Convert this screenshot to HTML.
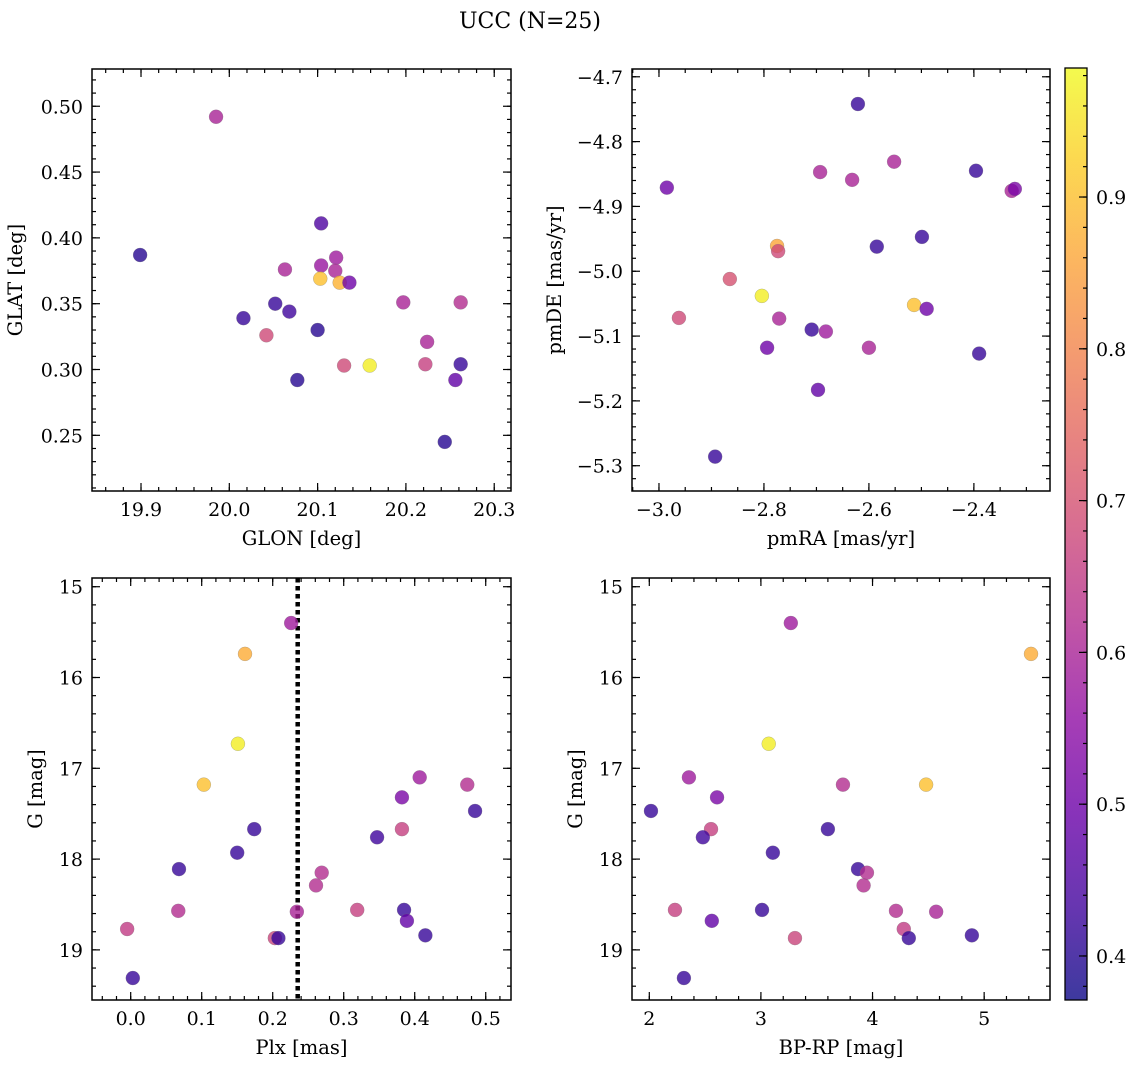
<!DOCTYPE html>
<html><head><meta charset="utf-8">
<style>
html,body{margin:0;padding:0;background:#fff;}
svg{display:block;font-family:"DejaVu Serif","Liberation Serif",serif;}
</style></head>
<body>
<svg id="fig" width="1136" height="1068" viewBox="0 0 1136 1068" xmlns="http://www.w3.org/2000/svg">
<defs>
<linearGradient id="plasma" x1="0" y1="1" x2="0" y2="0">
<stop offset="0" stop-color="#0d0887"/><stop offset="0.1" stop-color="#41049d"/><stop offset="0.2" stop-color="#6a00a8"/><stop offset="0.3" stop-color="#8f0da4"/><stop offset="0.4" stop-color="#b12a90"/><stop offset="0.5" stop-color="#cc4778"/><stop offset="0.6" stop-color="#e16462"/><stop offset="0.7" stop-color="#f2844b"/><stop offset="0.8" stop-color="#fca636"/><stop offset="0.9" stop-color="#fcce25"/><stop offset="1" stop-color="#f0f921"/>
</linearGradient>
</defs>
<text x="530" y="28" font-size="22" text-anchor="middle">UCC (N=25)</text>
</svg>
<script>
// Panel 1: positions
const glon = [19.985,19.899,20.104,20.121,20.104,20.063,20.120,20.103,20.125,20.136,20.052,20.197,20.262,20.068,20.016,20.100,20.042,20.224,20.130,20.159,20.222,20.262,20.077,20.256,20.244];
const glat = [0.492,0.387,0.411,0.385,0.379,0.376,0.375,0.369,0.366,0.366,0.350,0.351,0.351,0.344,0.339,0.330,0.326,0.321,0.303,0.303,0.304,0.304,0.292,0.292,0.245];
const probPos = [0.60,0.40,0.45,0.58,0.57,0.60,0.60,0.90,0.88,0.50,0.42,0.60,0.62,0.43,0.42,0.40,0.68,0.60,0.68,0.97,0.66,0.42,0.40,0.48,0.40];
// Panel 2: proper motions
const pmra = [-2.985,-2.621,-2.552,-2.693,-2.632,-2.396,-2.328,-2.322,-2.585,-2.499,-2.775,-2.773,-2.865,-2.804,-2.514,-2.490,-2.962,-2.771,-2.709,-2.682,-2.794,-2.600,-2.390,-2.697,-2.893];
const pmde = [-4.871,-4.742,-4.831,-4.847,-4.859,-4.845,-4.876,-4.873,-4.962,-4.947,-4.961,-4.969,-5.012,-5.038,-5.052,-5.058,-5.072,-5.073,-5.090,-5.093,-5.118,-5.118,-5.127,-5.183,-5.286];
const probPm = [0.50,0.42,0.60,0.60,0.60,0.42,0.60,0.52,0.42,0.42,0.86,0.68,0.70,0.97,0.90,0.50,0.68,0.60,0.42,0.58,0.50,0.60,0.42,0.48,0.42];
// Panels 3 & 4: photometry
const plx = [0.226,0.161,0.151,0.103,0.407,0.474,0.382,0.485,0.174,0.382,0.347,0.150,0.068,0.269,0.261,0.319,0.067,0.234,0.385,0.389,-0.005,0.415,0.203,0.208,0.003];
const gmag = [15.40,15.74,16.73,17.18,17.10,17.18,17.32,17.47,17.67,17.67,17.76,17.93,18.11,18.15,18.29,18.56,18.57,18.58,18.56,18.68,18.77,18.84,18.87,18.87,19.31];
const bprp = [3.268,5.42,3.07,4.48,2.355,3.735,2.607,2.015,3.60,2.553,2.48,3.107,3.87,3.95,3.92,2.23,4.21,4.57,3.01,2.56,4.28,4.89,3.305,4.325,2.31];
const probPhot = [0.58,0.87,0.97,0.90,0.58,0.62,0.52,0.42,0.42,0.66,0.43,0.42,0.42,0.62,0.62,0.66,0.62,0.60,0.42,0.48,0.65,0.42,0.67,0.42,0.42];
const plxLine = 0.2352;
// Ticks
const p1xTicks = [19.9,20.0,20.1,20.2,20.3];
const p1yTicks = [0.25,0.30,0.35,0.40,0.45,0.50];
const p2xTicks = [-3.0,-2.8,-2.6,-2.4];
const p2yTicks = [-5.3,-5.2,-5.1,-5.0,-4.9,-4.8,-4.7];
const p3xTicks = [0.0,0.1,0.2,0.3,0.4,0.5];
const gTicks = [15,16,17,18,19];
const p4xTicks = [2,3,4,5];
const cbTicks = [0.4,0.5,0.6,0.7,0.8,0.9];

const NS = "http://www.w3.org/2000/svg";
const svg = document.getElementById('fig');
function mk(tag, attrs, parent){ const e=document.createElementNS(NS,tag); for(const k in attrs) e.setAttribute(k,attrs[k]); (parent||svg).appendChild(e); return e; }

const stops=[[13,8,135],[65,4,157],[106,0,168],[143,13,164],[177,42,144],[204,71,120],[225,100,98],[242,132,75],[252,166,54],[252,206,37],[240,249,33]];
const VMIN=0.371, VMAX=0.985;
function plasma(p){ let t=(p-VMIN)/(VMAX-VMIN); t=Math.max(0,Math.min(1,t))*10; const i=Math.min(9,Math.floor(t)), f=t-i; const a=stops[i], b=stops[i+1]; return 'rgb('+a.map((v,k)=>Math.round(v+(b[k]-v)*f)).join(',')+')'; }

function fmt(v,d){ return (v<0?'\u2212':'')+Math.abs(v).toFixed(d); }
const TFS=19, AFS=19.5;

function panel(cfg){
  const {x0,x1,y0,y1,xd,yd,xt,yt,xMinor,yMinor,xDec,yDec,xlabel,ylabel,ylx,name}=cfg;
  const sx=v=>x0+(v-xd[0])/(xd[1]-xd[0])*(x1-x0);
  const sy=v=>y1-(v-yd[0])/(yd[1]-yd[0])*(y1-y0);
  const g=mk('g',{});  
  const xm0=Math.ceil(xd[0]/xMinor-1e-9), xm1=Math.floor(xd[1]/xMinor+1e-9);
  for(let k=xm0;k<=xm1;k++){ const X=sx(k*xMinor); mk('line',{x1:X,x2:X,y1:y1,y2:y1-4,stroke:'#000','stroke-width':1.2},g); mk('line',{x1:X,x2:X,y1:y0,y2:y0+4,stroke:'#000','stroke-width':1.2},g); }
  const ym0=Math.ceil(yd[0]/yMinor-1e-9), ym1=Math.floor(yd[1]/yMinor+1e-9);
  for(let k=ym0;k<=ym1;k++){ const Y=sy(k*yMinor); mk('line',{x1:x0,x2:x0+4,y1:Y,y2:Y,stroke:'#000','stroke-width':1.2},g); mk('line',{x1:x1,x2:x1-4,y1:Y,y2:Y,stroke:'#000','stroke-width':1.2},g); }
  xt.forEach(v=>{ const X=sx(v); mk('line',{x1:X,x2:X,y1:y1,y2:y1-8,stroke:'#000','stroke-width':1.2},g); mk('line',{x1:X,x2:X,y1:y0,y2:y0+8,stroke:'#000','stroke-width':1.2},g);
    const t=mk('text',{x:X,y:y1+25,'font-size':TFS,'text-anchor':'middle'},g); t.textContent=fmt(v,xDec);
      });
  yt.forEach(v=>{ const Y=sy(v); mk('line',{x1:x0,x2:x0+8,y1:Y,y2:Y,stroke:'#000','stroke-width':1.2},g); mk('line',{x1:x1,x2:x1-8,y1:Y,y2:Y,stroke:'#000','stroke-width':1.2},g);
    const t=mk('text',{x:x0-9,y:Y+7,'font-size':TFS,'text-anchor':'end'},g); t.textContent=fmt(v,yDec);
      });
  mk('rect',{x:x0,y:y0,width:x1-x0,height:y1-y0,fill:'none',stroke:'#000','stroke-width':1.5},g);
  const xl=mk('text',{x:(x0+x1)/2,y:y1+54,'font-size':AFS,'text-anchor':'middle'},g); xl.textContent=xlabel;
   
  const yc=(y0+y1)/2;
  const yl=mk('text',{x:ylx,y:yc,'font-size':AFS,'text-anchor':'middle',transform:'rotate(-90 '+ylx+' '+yc+')'},g); yl.textContent=ylabel;
   
  return {sx,sy,g,x0,x1};
}
function scatter(P,xs,ys,ps){
  xs.forEach((v,i)=>{ const c=mk('circle',{cx:P.sx(v),cy:P.sy(ys[i]),r:7,fill:plasma(ps[i]),'fill-opacity':0.8,stroke:'#777','stroke-opacity':0.5,'stroke-width':0.5},P.g);
      });
}

const P1=panel({name:'glon-glat-panel',x0:92,x1:511,y0:69,y1:491,xd:[19.8445,20.319],yd:[0.2077,0.5283],xt:p1xTicks,yt:p1yTicks,xMinor:0.02,yMinor:0.01,xDec:1,yDec:2,xlabel:'GLON [deg]',ylabel:'GLAT [deg]',ylx:22});
scatter(P1,glon,glat,probPos);
const P2=panel({name:'proper-motion-panel',x0:632,x1:1050,y0:69,y1:491,xd:[-3.0514,-2.255],yd:[-5.339,-4.688],xt:p2xTicks,yt:p2yTicks,xMinor:0.05,yMinor:0.02,xDec:1,yDec:1,xlabel:'pmRA [mas/yr]',ylabel:'pmDE [mas/yr]',ylx:561});
scatter(P2,pmra,pmde,probPm);
const P3=panel({name:'plx-g-panel',x0:92,x1:511,y0:578,y1:1000,xd:[-0.0545,0.5356],yd:[-19.552,-14.904],xt:p3xTicks,yt:[],xMinor:0.02,yMinor:0.2,xDec:1,yDec:0,xlabel:'Plx [mas]',ylabel:'G [mag]',ylx:42});
const P4=panel({name:'cmd-panel',x0:632,x1:1050,y0:578,y1:1000,xd:[1.845,5.590],yd:[-19.552,-14.904],xt:p4xTicks,yt:[],xMinor:0.2,yMinor:0.2,xDec:0,yDec:0,xlabel:'BP-RP [mag]',ylabel:'G [mag]',ylx:582});
[P3,P4].forEach(P=>{
  gTicks.forEach(v=>{ const Y=P.sy(-v);
    mk('line',{x1:P.x0,x2:P.x0+8,y1:Y,y2:Y,stroke:'#000','stroke-width':1.2},P.g); mk('line',{x1:P.x1,x2:P.x1-8,y1:Y,y2:Y,stroke:'#000','stroke-width':1.2},P.g);
    const t=mk('text',{x:P.x0-9,y:Y+7,'font-size':TFS,'text-anchor':'end'},P.g); t.textContent=String(v);
      });
});
const negG=gmag.map(v=>-v);
const lx=P3.sx(plxLine);
const dl=mk('line',{x1:lx,x2:lx,y1:578,y2:1000,stroke:'#000','stroke-width':4.5,'stroke-dasharray':'4.5,3.5'},P3.g);
 
scatter(P3,plx,negG,probPhot);
scatter(P4,bprp,negG,probPhot);

// Colorbar
const cb=mk('g',{});  
const cy0=68, cy1=1000, cx0=1065, cx1=1087;
mk('rect',{x:cx0,y:cy0,width:cx1-cx0,height:cy1-cy0,fill:'url(#plasma)','fill-opacity':0.8},cb);
mk('rect',{x:cx0,y:cy0,width:cx1-cx0,height:cy1-cy0,fill:'none',stroke:'#000','stroke-width':1.3},cb);
const cs=v=>cy1-(v-VMIN)/(VMAX-VMIN)*(cy1-cy0);
for(let k=19;k<=49;k++){ const v=k*0.02; if(v<VMIN||v>VMAX) continue; const Y=cs(v); mk('line',{x1:cx1,x2:cx1-4,y1:Y,y2:Y,stroke:'#000','stroke-width':1.2},cb); }
cbTicks.forEach(v=>{ const Y=cs(v); mk('line',{x1:cx1,x2:cx1-8,y1:Y,y2:Y,stroke:'#000','stroke-width':1.2},cb);
  const t=mk('text',{x:cx1+9,y:Y+7,'font-size':TFS},cb); t.textContent=v.toFixed(1);
    });
</script>
</body></html>
